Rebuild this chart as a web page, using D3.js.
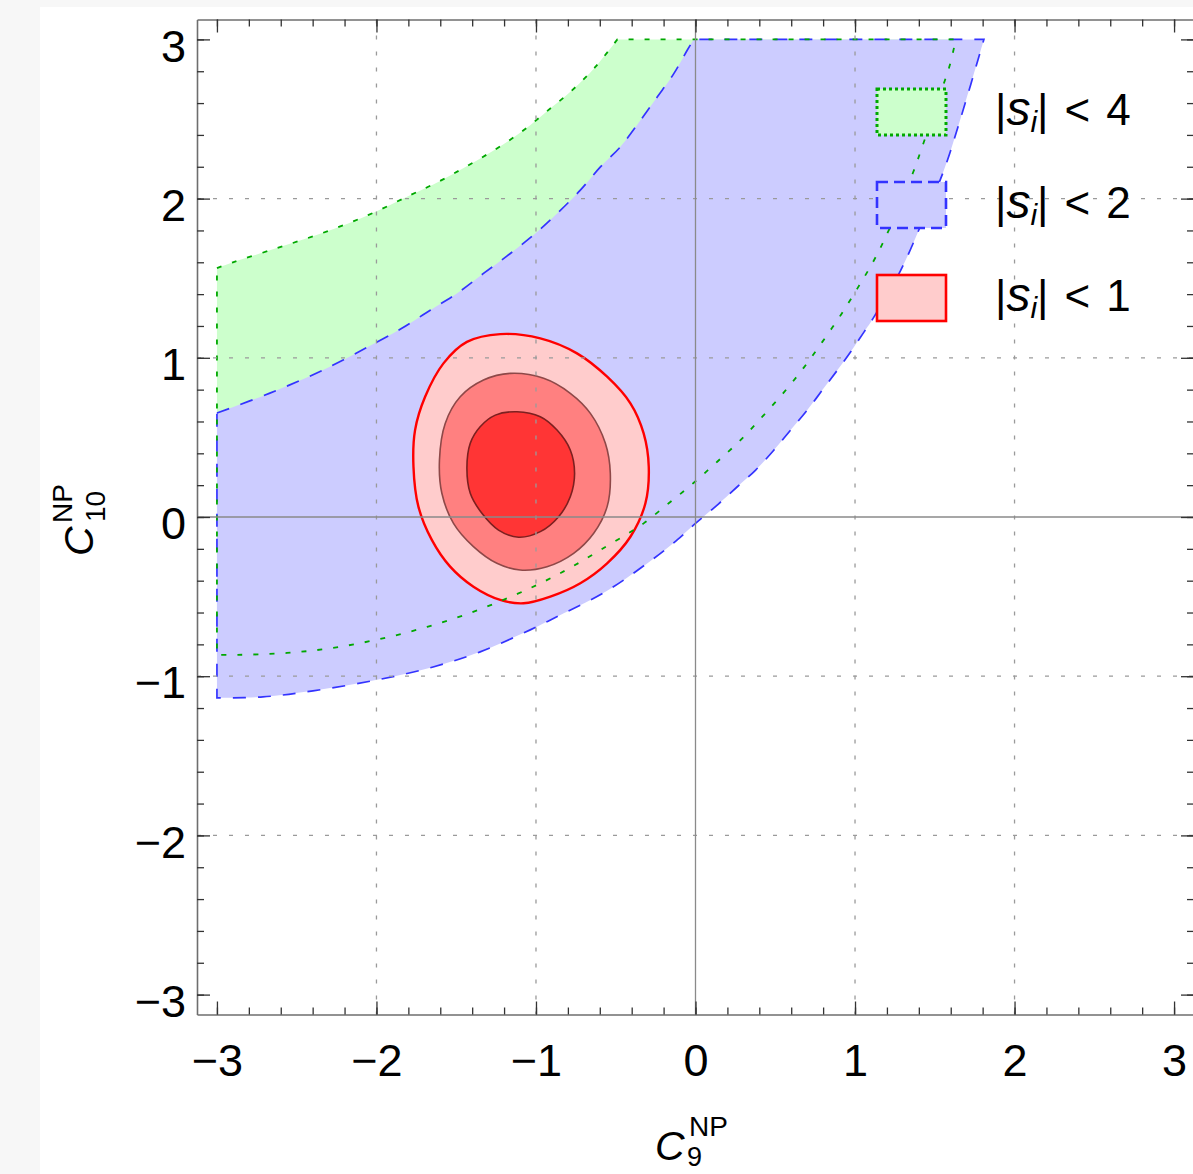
<!DOCTYPE html>
<html>
<head>
<meta charset="utf-8">
<script src="https://cdn.jsdelivr.net/npm/d3@7"></script>
<style>
  html, body { margin: 0; padding: 0; background: #f7f7f7; }
  svg { display: block; }
  text { font-family: "Liberation Sans", Arial, Helvetica, sans-serif; fill: #000; }
</style>
</head>
<body>
<svg id="chart" width="1193" height="1174"></svg>
<script>
// ---- data ----------------------------------------------------------
const majorTicks = [-3, -2, -1, 0, 1, 2, 3];
const minorTicks = d3.range(-15, 16).map(i => i / 5);
const gridValues = [-2, -1, 1, 2];

// |s_i| < 4 band: upper and lower boundaries (C9, C10)
const greenUpper = [[-3.0,1.563],[-2.90,1.60],[-2.624,1.689],[-2.335,1.785],[-2.053,1.896],[-1.789,2.021],
  [-1.601,2.111],[-1.423,2.210],[-1.245,2.315],[-1.078,2.429],[-0.931,2.549],[-0.774,2.680],
  [-0.628,2.827],[-0.49,3.0]];
const greenLower = [[-3.0,-0.866],[-2.875,-0.866],[-2.561,-0.854],[-2.272,-0.822],[-1.977,-0.766],
  [-1.682,-0.690],[-1.394,-0.596],[-1.117,-0.483],[-0.929,-0.395],[-0.766,-0.308],[-0.596,-0.207],
  [-0.408,-0.094],[-0.325,-0.040],[-0.168,0.086],[-0.011,0.215],[0.136,0.347],[0.282,0.483],
  [0.419,0.630],[0.554,0.783],[0.680,0.940],[0.795,1.100],[0.910,1.268],[1.015,1.436],[1.119,1.613],
  [1.212,1.802],[1.362,2.159],[1.431,2.354],[1.557,2.724],[1.594,2.837],[1.632,3.0]];

// |s_i| < 2 band
const blueUpper = [[-3.0,0.653],[-2.668,0.778],[-2.335,0.923],[-1.996,1.099],[-1.841,1.185],[-1.663,1.299],
  [-1.496,1.404],[-1.329,1.530],[-1.161,1.655],[-1.004,1.781],[-0.868,1.906],[-0.722,2.053],
  [-0.596,2.199],[-0.471,2.325],[-0.345,2.492],[-0.240,2.638],[-0.136,2.785],[-0.052,2.932],[-0.011,3.0]];
const blueLower = [[-3.0,-1.136],[-2.712,-1.130],[-2.398,-1.092],[-1.996,-1.023],[-1.645,-0.942],
  [-1.350,-0.847],[-1.036,-0.709],[-0.826,-0.605],[-0.554,-0.463],[-0.272,-0.268],[-0.115,-0.144],
  [0.0,-0.04],[0.136,0.075],[0.262,0.190],[0.377,0.295],[0.492,0.421],[0.596,0.546],[0.701,0.672],
  [0.795,0.797],[0.890,0.923],[0.973,1.038],[1.057,1.163],[1.119,1.257],[1.287,1.551],[1.420,1.850],
  [1.557,2.178],[1.664,2.511],[1.808,3.0]];

// |s_i| < 1 likelihood contours (outer to inner)
const contourOuter = [[-1.224,1.149],[-1.433,1.100],[-1.580,0.965],[-1.695,0.755],[-1.758,0.546],
  [-1.768,0.316],[-1.737,0.065],[-1.653,-0.144],[-1.538,-0.312],[-1.392,-0.438],[-1.224,-0.521],
  [-1.078,-0.542],[-0.910,-0.500],[-0.722,-0.416],[-0.554,-0.291],[-0.408,-0.124],[-0.314,0.086],
  [-0.293,0.316],[-0.325,0.525],[-0.408,0.714],[-0.554,0.881],[-0.743,1.028],[-0.973,1.122]];
const contourMiddle = [[-1.161,0.902],[-1.329,0.860],[-1.475,0.755],[-1.569,0.588],[-1.605,0.358],
  [-1.590,0.149],[-1.517,-0.040],[-1.392,-0.186],[-1.245,-0.291],[-1.099,-0.333],[-0.931,-0.312],
  [-0.764,-0.228],[-0.638,-0.102],[-0.554,0.065],[-0.534,0.274],[-0.565,0.463],[-0.659,0.651],
  [-0.785,0.777],[-0.952,0.871]];
const contourInner = [[-1.119,0.661],[-1.255,0.640],[-1.350,0.567],[-1.412,0.463],[-1.433,0.306],
  [-1.412,0.149],[-1.339,0.023],[-1.235,-0.082],[-1.109,-0.127],[-0.973,-0.092],[-0.858,0.002],
  [-0.785,0.127],[-0.758,0.274],[-0.785,0.421],[-0.868,0.546],[-0.973,0.630]];

const legendBounds = ["4", "2", "1"];

// ---- layout --------------------------------------------------------
const svg = d3.select("#chart");
svg.append("rect").attr("x", 40).attr("y", 7).attr("width", 1153).attr("height", 1167).attr("fill", "#fff");

const x = d3.scaleLinear().domain([-3.125, 3.125]).range([197, 1194]);
const y = d3.scaleLinear().domain([-3.125, 3.125]).range([1014.5, 19.5]);
const fmt = d3.format("d");

svg.append("clipPath").attr("id", "plotClip")
  .append("rect").attr("x", 197).attr("y", 19.5).attr("width", 997).attr("height", 995);

const plot = svg.append("g").attr("clip-path", "url(#plotClip)");

const curve = d3.line().x(d => x(d[0])).y(d => y(d[1])).curve(d3.curveCatmullRom.alpha(0.5));
const closed = d3.line().x(d => x(d[0])).y(d => y(d[1])).curve(d3.curveCatmullRomClosed.alpha(0.5));

function bandPath(upper, lower) {
  const a = curve(upper);
  const b = curve(lower.slice().reverse()).replace(/^M/, "L");
  return a + b + "Z";
}

const greenD = bandPath(greenUpper, greenLower);
const blueD = bandPath(blueUpper, blueLower);

plot.append("path").attr("d", greenD).attr("fill", "#ccffcc").attr("stroke", "none");
plot.append("path").attr("d", blueD).attr("fill", "#ccccff").attr("stroke", "none");

// contours
plot.append("path").attr("d", closed(contourOuter)).attr("fill", "#ffcccc")
  .attr("stroke", "#ff0000").attr("stroke-width", 2.4);
plot.append("path").attr("d", closed(contourMiddle)).attr("fill", "#ff8080")
  .attr("stroke", "#8e4848").attr("stroke-width", 1.6);
plot.append("path").attr("d", closed(contourInner)).attr("fill", "#ff3535")
  .attr("stroke", "#7c2020").attr("stroke-width", 1.6);

// band boundaries
plot.append("path").attr("d", blueD).attr("fill", "none").attr("stroke", "#3333ff")
  .attr("stroke-width", 1.7).attr("stroke-dasharray", "13,12");
plot.append("path").attr("d", greenD).attr("fill", "none").attr("stroke", "#00a800")
  .attr("stroke-width", 1.8).attr("stroke-dasharray", "5,11");

// grid lines
plot.selectAll(".gx").data(gridValues).join("line")
  .attr("x1", d => x(d)).attr("x2", d => x(d)).attr("y1", 19.5).attr("y2", 1014.5)
  .attr("stroke", "#9a9a9a").attr("stroke-width", 1.3).attr("stroke-dasharray", "4,12");
plot.selectAll(".gy").data(gridValues).join("line")
  .attr("y1", d => y(d)).attr("y2", d => y(d)).attr("x1", 197).attr("x2", 1194)
  .attr("stroke", "#9a9a9a").attr("stroke-width", 1.3).attr("stroke-dasharray", "4,12");

// zero axes
plot.append("line").attr("x1", x(0)).attr("x2", x(0)).attr("y1", 19.5).attr("y2", 1014.5)
  .attr("stroke", "#8a8a8a").attr("stroke-width", 1.3);
plot.append("line").attr("y1", y(0)).attr("y2", y(0)).attr("x1", 197).attr("x2", 1194)
  .attr("stroke", "#8a8a8a").attr("stroke-width", 1.3);

// ---- frame axes ----------------------------------------------------
function styleAxis(g) {
  g.select(".domain").attr("stroke", "#6e6e6e").attr("stroke-width", 1.6);
  g.selectAll(".tick line").attr("stroke", "#333").attr("stroke-width", 1.3);
  g.selectAll("text").attr("font-size", 45).attr("font-family", '"Liberation Sans", Arial, sans-serif');
}

const axBottom = svg.append("g").attr("transform", `translate(0,${y.range()[0]})`);
axBottom.call(d3.axisBottom(x).tickValues(minorTicks).tickSize(-7).tickSizeOuter(0).tickFormat(""));
axBottom.append("g").call(d3.axisBottom(x).tickValues(majorTicks).tickSize(-13).tickSizeOuter(0)
    .tickPadding(30).tickFormat(fmt))
  .call(g => g.select(".domain").remove());
styleAxis(axBottom);

const axTop = svg.append("g").attr("transform", `translate(0,${y.range()[1]})`);
axTop.call(d3.axisTop(x).tickValues(minorTicks).tickSize(-7).tickSizeOuter(0).tickFormat(""));
axTop.append("g").call(d3.axisTop(x).tickValues(majorTicks).tickSize(-13).tickSizeOuter(0).tickFormat(""))
  .call(g => g.select(".domain").remove());
styleAxis(axTop);

const axLeft = svg.append("g").attr("transform", `translate(${x.range()[0]},0)`);
axLeft.call(d3.axisLeft(y).tickValues(minorTicks).tickSize(-7).tickSizeOuter(0).tickFormat(""));
axLeft.append("g").call(d3.axisLeft(y).tickValues(majorTicks).tickSize(-13).tickSizeOuter(0)
    .tickPadding(11).tickFormat(fmt))
  .call(g => g.select(".domain").remove());
styleAxis(axLeft);
axLeft.selectAll("text").attr("dy", "0.48em");

const axRight = svg.append("g").attr("transform", `translate(${x.range()[1]},0)`);
axRight.call(d3.axisRight(y).tickValues(minorTicks).tickSize(-7).tickSizeOuter(0).tickFormat(""));
axRight.append("g").call(d3.axisRight(y).tickValues(majorTicks).tickSize(-13).tickSizeOuter(0).tickFormat(""))
  .call(g => g.select(".domain").remove());
styleAxis(axRight);

// ---- axis titles ---------------------------------------------------
const xt = svg.append("g");
xt.append("text").attr("x", 655).attr("y", 1160).attr("font-size", 41).attr("font-style", "italic").text("C");
xt.append("text").attr("x", 689).attr("y", 1136).attr("font-size", 28).text("NP");
xt.append("text").attr("x", 687).attr("y", 1166).attr("font-size", 27).text("9");

const yt = svg.append("g").attr("transform", "translate(93,556) rotate(-90)");
yt.append("text").attr("x", 0).attr("y", 0).attr("font-size", 41).attr("font-style", "italic").text("C");
yt.append("text").attr("x", 33).attr("y", -21).attr("font-size", 28).text("NP");
yt.append("text").attr("x", 34).attr("y", 12).attr("font-size", 28).text("10");

// ---- legend --------------------------------------------------------
const legendStyles = [
  { fill: "#ccffcc", stroke: "#00a800", width: 3, dash: "3,3" },
  { fill: "#ccccff", stroke: "#3333ff", width: 2.6, dash: "11,6" },
  { fill: "#ffcccc", stroke: "#ff0000", width: 2.6, dash: null }
];
const legend = svg.append("g");
legendBounds.forEach((b, i) => {
  const st = legendStyles[i];
  const ry = 89 + i * 93;
  legend.append("rect").attr("x", 877).attr("y", ry).attr("width", 69).attr("height", 46)
    .attr("fill", st.fill).attr("stroke", st.stroke).attr("stroke-width", st.width)
    .attr("stroke-dasharray", st.dash);
  const t = legend.append("text").attr("x", 995).attr("y", ry + 36).attr("font-size", 44);
  t.append("tspan").text("|");
  t.append("tspan").attr("font-style", "italic").attr("font-size", 48).text("s");
  t.append("tspan").attr("font-style", "italic").attr("font-size", 30).attr("dy", 7).text("i");
  t.append("tspan").attr("dy", -7).text("|");
  t.append("tspan").attr("dx", 16).text("<");
  t.append("tspan").attr("dx", 16).text(b);
});
</script>
</body>
</html>
